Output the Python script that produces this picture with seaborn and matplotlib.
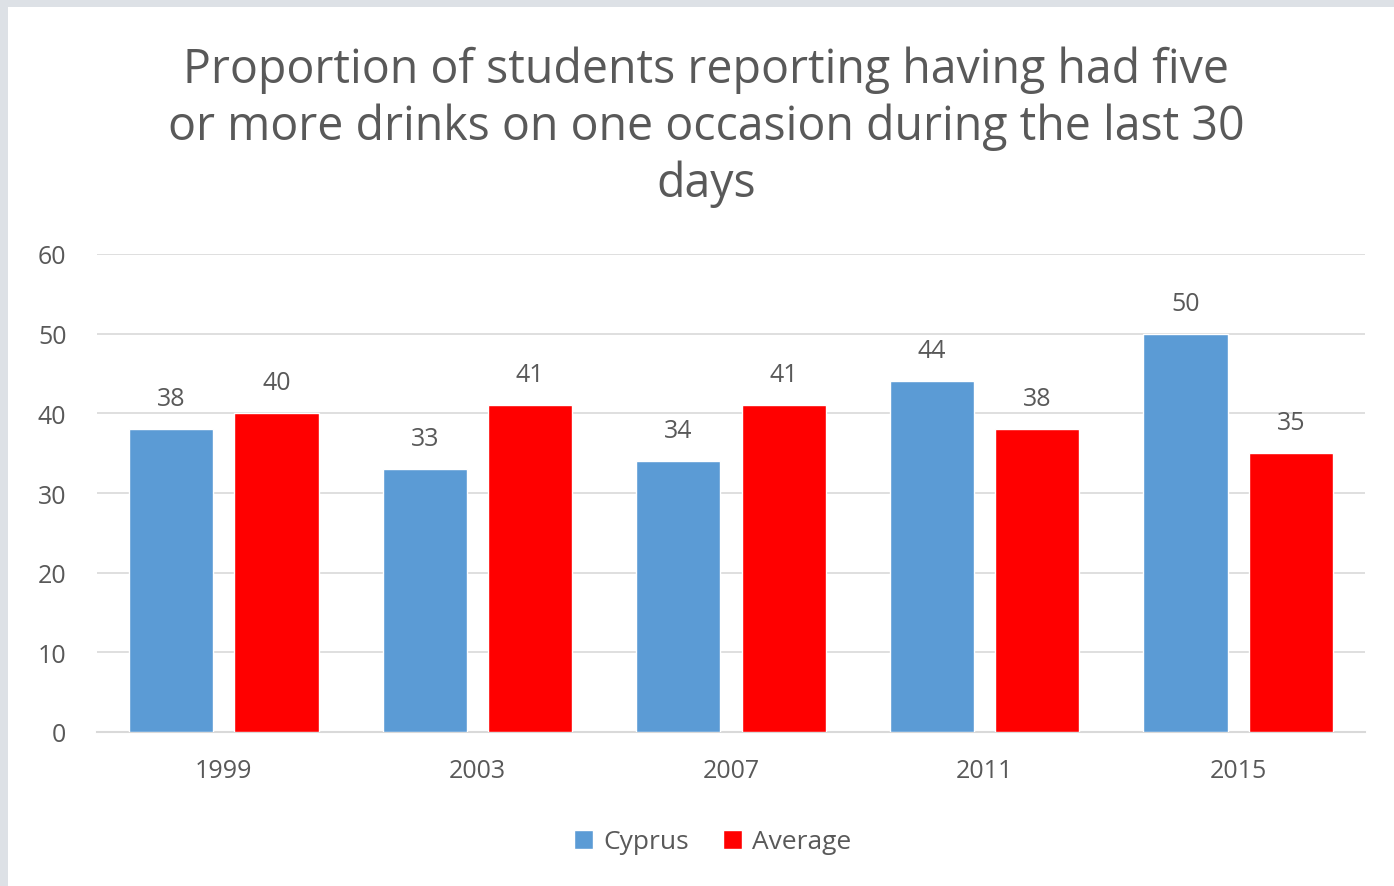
import matplotlib
matplotlib.use("Agg")
import matplotlib.pyplot as plt
from matplotlib.patches import Rectangle
import seaborn as sns
import pandas as pd

years = ["1999", "2003", "2007", "2011", "2015"]
cyprus = [38, 33, 34, 44, 50]
average = [40, 41, 41, 38, 35]
series_names = ["Cyprus", "Average"]
title = ("Proportion of students reporting having had five\n"
         "or more drinks on one occasion during the last 30\ndays")

df = pd.DataFrame({
    "year": years * 2,
    "value": cyprus + average,
    "series": [series_names[0]] * len(years) + [series_names[1]] * len(years),
})

sns.set_theme(style="white")
plt.rcParams["font.family"] = ["Open Sans", "DejaVu Sans"]

text_color = "#595959"
grid_color = "#d9d9d9"
frame_color = "#dde1e6"

fig = plt.figure(figsize=(13.94, 8.87), dpi=100)
fig.patch.set_facecolor("white")
# grey window frame along the top and left edges
fig.patches.append(Rectangle((0, 1 - 8 / 887), 1, 8 / 887, transform=fig.transFigure,
                             facecolor=frame_color, edgecolor="none", zorder=-1))
fig.patches.append(Rectangle((0, 0), 8 / 1394, 1, transform=fig.transFigure,
                             facecolor=frame_color, edgecolor="none", zorder=-1))

ax = fig.add_axes([97 / 1394, 1 - 733 / 887, (1365 - 97) / 1394, (733 - 255) / 887])
ax.set_facecolor("none")

sns.barplot(data=df, x="year", y="value", hue="series",
            palette=["#5b9bd5", "#ff0000"], width=0.83, gap=0.2,
            saturation=1, ax=ax, zorder=3)

for container in ax.containers:
    ax.bar_label(container, padding=13, fontsize=18, color=text_color)

ax.set_ylim(0, 60)
ax.set_yticks(range(0, 61, 10))
ax.set_xlim(-0.5, len(years) - 0.5)
ax.yaxis.grid(True, color=grid_color, linewidth=1.2)
ax.set_axisbelow(True)
for side in ["left", "right", "top"]:
    ax.spines[side].set_visible(False)
ax.spines["bottom"].set_color(grid_color)
ax.spines["bottom"].set_linewidth(1.5)
ax.tick_params(axis="both", length=0, labelsize=18, labelcolor=text_color)
ax.tick_params(axis="y", pad=22)
ax.tick_params(axis="x", pad=19)
ax.set_xlabel("")
ax.set_ylabel("")

fig.text(706 / 1394, 1 - 46 / 887, title, ha="center", va="top",
         fontsize=33.5, color=text_color, linespacing=1.27)

handles, labels = ax.get_legend_handles_labels()
ax.legend(handles, labels, loc="center", bbox_to_anchor=(713 / 1394, 1 - 843 / 887),
          bbox_transform=fig.transFigure, ncol=2, frameon=False, fontsize=19,
          labelcolor=text_color, handlelength=0.7, handleheight=0.7,
          handletextpad=0.4, columnspacing=1.3)

fig.savefig("out.png", dpi=100, facecolor=fig.get_facecolor())
